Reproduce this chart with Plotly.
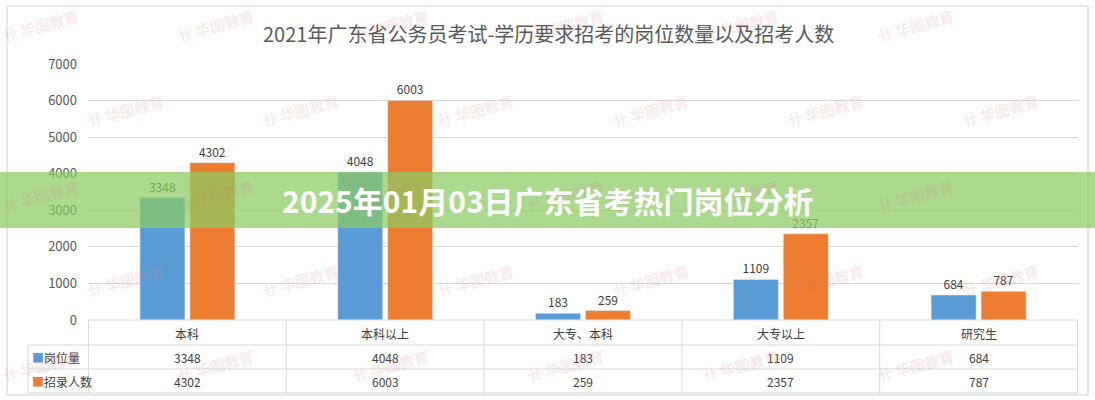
import plotly.graph_objects as go

categories = ["本科", "本科以上", "大专、本科", "大专以上", "研究生"]
posts = [3348, 4048, 183, 1109, 684]
recruits = [4302, 6003, 259, 2357, 787]
series_names = ["岗位量", "招录人数"]
y_ticks = [0, 1000, 2000, 3000, 4000, 5000, 6000, 7000]
title_text = "2021年广东省公务员考试-学历要求招考的岗位数量以及招考人数"
banner_text = "2025年01月03日广东省考热门岗位分析"

BLUE = "#5B9BD5"
ORANGE = "#ED7D31"
GRID = "#D9D9D9"
TXT = "#595959"
FONT = "Noto Sans CJK SC"

W, H = 1095, 400
L, R, T, B = 88, 1078, 64, 320


def px(x):
    return (x - L) / (R - L)


def py(y):
    return (B - y) / (B - T)


def note(x, y, text, size=12, color="#404040", xref="paper", xanchor="center", **kw):
    return dict(x=x, xref=xref, y=py(y), yref="paper", text=text, showarrow=False,
                xanchor=xanchor, yanchor="middle",
                font=dict(size=size, color=color, family=FONT), **kw)


fig = go.Figure()
fig.add_trace(go.Bar(x=categories, y=posts, name=series_names[0], marker_color=BLUE,
                     text=posts, textposition="outside", cliponaxis=False,
                     textfont=dict(size=12, color="#404040", family=FONT)))
fig.add_trace(go.Bar(x=categories, y=recruits, name=series_names[1], marker_color=ORANGE,
                     text=recruits, textposition="outside", cliponaxis=False,
                     textfont=dict(size=12, color="#404040", family=FONT)))

shapes = []
ann = []

# chart border
shapes.append(dict(type="rect", xref="paper", yref="paper", x0=px(7), x1=px(1088), y0=py(395), y1=py(6),
                   line=dict(color="#D0D0D0", width=1), layer="below"))

# table lines
shapes.append(dict(type="line", xref="paper", yref="paper", x0=px(L), x1=px(R), y0=py(320), y1=py(320),
                   line=dict(color=GRID, width=1)))
for yy in [345, 369, 393]:
    shapes.append(dict(type="line", xref="paper", yref="paper", x0=px(28), x1=px(R), y0=py(yy), y1=py(yy),
                       line=dict(color=GRID, width=1)))
shapes.append(dict(type="line", xref="paper", yref="paper", x0=px(28), x1=px(28), y0=py(345), y1=py(393),
                   line=dict(color=GRID, width=1)))
for i in range(len(categories) + 1):
    shapes.append(dict(type="line", xref="x", yref="paper", x0=i - 0.5, x1=i - 0.5, y0=py(320), y1=py(393),
                       line=dict(color=GRID, width=1)))

# table texts
for i, c in enumerate(categories):
    ann.append(note(c, 333, c, xref="x"))
    ann.append(note(c, 357, str(posts[i]), xref="x"))
    ann.append(note(c, 381, str(recruits[i]), xref="x"))
for name, col, yy in [(series_names[0], BLUE, 357), (series_names[1], ORANGE, 381)]:
    ann.append(note(px(30), yy, f'<span style="color:{col}">■</span>{name}', xanchor="left"))

# title
ann.append(note(px(548), 33, title_text, size=20, color=TXT))

# watermarks (decorative)
for r in range(5):
    for k in range(7):
        wx = 40 + k * 175 + (r % 2) * 85
        wy = 25 + r * 85
        if wx > 1080:
            continue
        ann.append(note(px(wx), wy, "<b>卄 华图教育</b>", size=15, color="rgba(215,120,130,0.18)",
                        textangle=-15))

# banner
shapes.append(dict(type="rect", xref="paper", yref="paper", x0=px(0), x1=px(W), y0=py(228), y1=py(172),
                   fillcolor="rgba(138,204,98,0.72)", line=dict(width=0), layer="above"))
ann.append(note(px(548), 200, f"<b>{banner_text}</b>", size=30, color="white"))

fig.update_layout(
    width=W, height=H,
    margin=dict(l=L, r=W - R, t=T, b=H - B, autoexpand=False),
    paper_bgcolor="white", plot_bgcolor="white",
    barmode="group", bargap=0.495, bargroupgap=0.1,
    showlegend=False,
    font=dict(family=FONT, color=TXT),
    shapes=shapes, annotations=ann,
    xaxis=dict(showticklabels=False, showgrid=False, zeroline=False, showline=False, ticks=""),
    yaxis=dict(range=[0, 7000], tickvals=y_ticks, showgrid=True, gridcolor=GRID, gridwidth=1,
               zeroline=False, showline=False, ticks="", ticklabelstandoff=10,
               tickfont=dict(size=13, color=TXT, family=FONT)),
)

fig.write_html("out.html", config={"displayModeBar": False},
               post_script="document.body.style.margin='0';document.body.style.overflow='hidden';")
